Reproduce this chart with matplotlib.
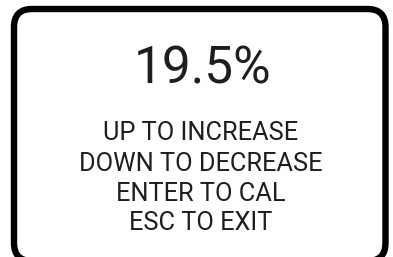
import matplotlib
matplotlib.use("Agg")
import matplotlib.pyplot as plt
from matplotlib.patches import FancyBboxPatch

reading = "19.5%"
instructions = ["UP TO INCREASE", "DOWN TO DECREASE", "ENTER TO CAL", "ESC TO EXIT"]

W, H = 393, 257
fig = plt.figure(figsize=(W / 100, H / 100), dpi=100)
ax = fig.add_axes([0, 0, 1, 1])
ax.set_xlim(0, W)
ax.set_ylim(0, H)
ax.axis("off")

def fy(y):
    return H - y

# box in reference pixel coords: x 14..385.5, y 9..261 (line centres)
top, bot = 9, 261
box = FancyBboxPatch((14, fy(bot)), 371.5, bot - top,
                     boxstyle="round,pad=0,rounding_size=18",
                     fill=False, edgecolor="black", linewidth=4.6)
ax.add_patch(box)

txtcolor = "#1e1e1e"
ax.text(202.5, fy(83), reading, ha="center", va="baseline", fontsize=37,
        family="Roboto", color=txtcolor)

baselines = [140.3, 171.3, 201.3, 230.3]
for y, s in zip(baselines, instructions):
    ax.text(201, fy(y), s, ha="center", va="baseline", fontsize=18.3,
            family="Roboto", color=txtcolor)

fig.savefig("out.png", dpi=100)
